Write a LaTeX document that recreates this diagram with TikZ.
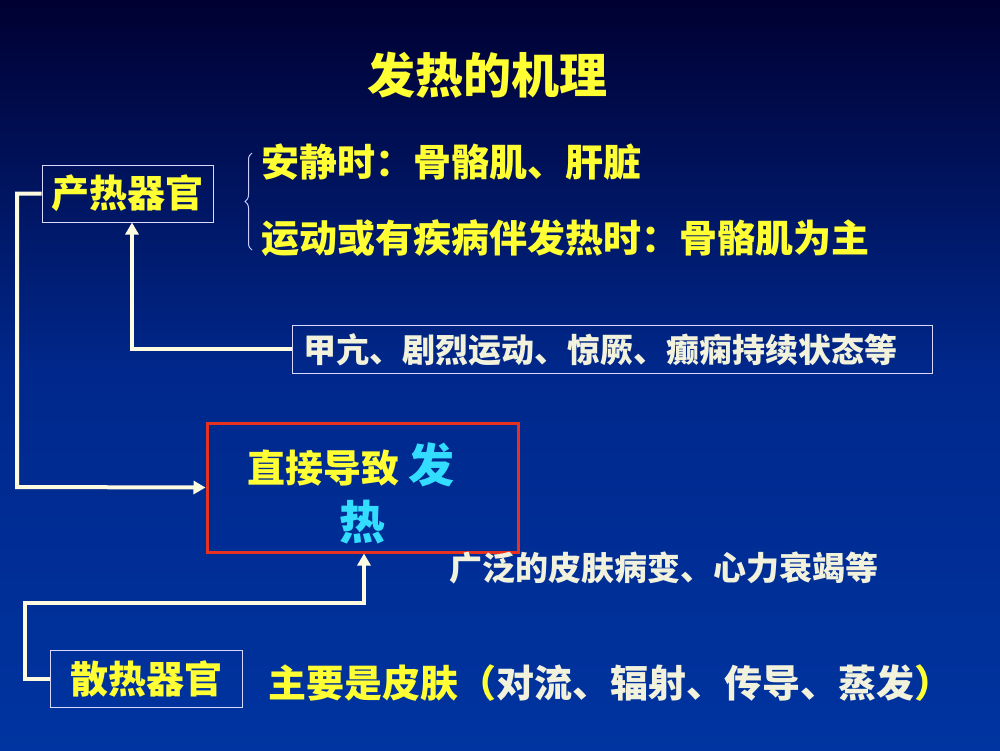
\documentclass[tikz,border=0pt]{standalone}
\usepackage{fontspec}
\usetikzlibrary{arrows.meta,decorations.pathreplacing}
\newfontfamily\cjk{Noto Sans CJK SC}
\definecolor{ylw}{HTML}{FFFF33}
\definecolor{pale}{HTML}{F2F2DC}
\definecolor{cyn}{HTML}{33DDFF}
\definecolor{cream}{HTML}{FFFBE0}
\tikzset{
 box/.style={draw=white!85!blue, line width=1pt, inner sep=0pt, minimum height=57pt},
 conn/.style={draw=cream, line width=4pt},
 arr/.style={conn, -{Triangle[length=12pt,width=13pt]}},
 fsz/.style={font=\cjk\bfseries\fontsize{#1}{#1}\selectfont}
}
\begin{document}
\begin{tikzpicture}[x=1pt,y=-1pt]
\useasboundingbox (0,0) rectangle (1000,750);
\shade[top color={rgb,255:red,0;green,0;blue,50}, bottom color={rgb,255:red,0;green,52;blue,160}, middle color={rgb,255:red,0;green,40;blue,140}] (0,0) rectangle (1000,750);
\node[fsz=48, text=ylw] (title) at (487,75) {发热的机理};
% 产热器官
\node[box, minimum width=171pt, fsz=38, text=ylw] (prod) at (127.5,193.5) {产热器官};
\draw[white!80!blue, line width=1pt, decorate, decoration={brace, amplitude=7pt}] (252,250) -- (252,153);
\node[fsz=38, text=ylw, anchor=west] (t1) at (258,162) {安静时：骨骼肌、肝脏};
\node[fsz=38, text=ylw, anchor=west] (t2) at (258,238) {运动或有疾病伴发热时：骨骼肌为主};
% 甲亢
\node[box, minimum width=640pt, minimum height=48pt] (hyper) at (612,349) {};
\node[fsz=33, text=pale, anchor=west] (hypert) at (300,350) {甲亢、剧烈运动、惊厥、癫痫持续状态等};
% red box
\node[draw={rgb,255:red,230;green,50;blue,30}, line width=3pt, minimum width=311pt, minimum height=129pt, inner sep=0pt] (fever) at (362.5,487.5) {};
\node[fsz=38, anchor=west] (ft1) at (244,465) {\textcolor{ylw}{直接导致} \textcolor{cyn}{\fontsize{46}{46}\selectfont 发}};
\node[fsz=46, text=cyn] (ft2) at (362,522) {热};
\node[fsz=33, text=pale, anchor=west] (skinx) at (446,568) {广泛的皮肤病变、心力衰竭等};
% 散热器官
\node[box, minimum width=192pt, fsz=38, text=ylw] (diss) at (146,678.5) {散热器官};
\node[fsz=38, anchor=west] (t3) at (265,683) {\textcolor{ylw}{主要是皮肤（}\textcolor{pale}{对流、辐射、传导、蒸发}\textcolor{ylw}{）}};
% connectors
\draw[arr] (prod.west) -- (17,193.5) -- (17,487) -- (fever.west);
\draw[arr] (hyper.west) -- (132,349) -- (prod.south -| 132,0);
\draw[arr] (diss.west) -- (25,678.5) -- (25,603) -- (364,603) -- (fever.south -| 364,0);
\end{tikzpicture}
\end{document}
